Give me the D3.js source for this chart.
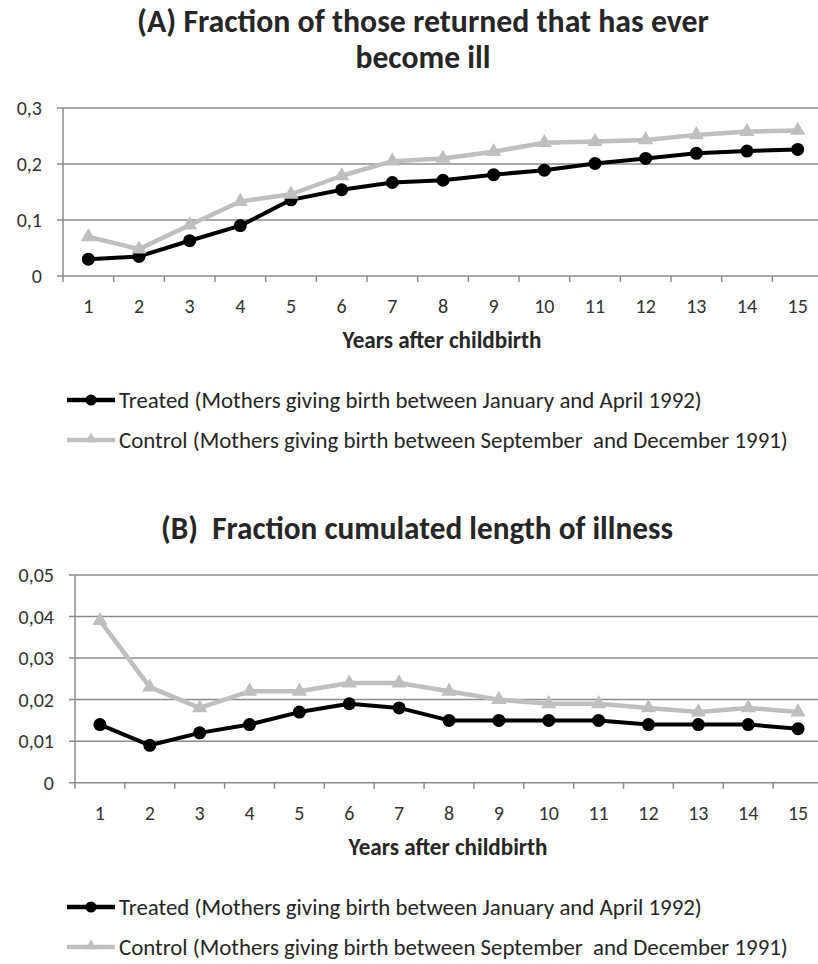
<!DOCTYPE html>
<html>
<head>
  <title>Illness after childbirth</title>
  <script src="https://d3js.org/d3.v7.min.js"></script>
  <style>
    body { margin: 0; background: #fff; }
    svg { display: block; font-family: Carlito, Calibri, Lato, "Open Sans", sans-serif; }
    text { white-space: pre; fill: #262626; }
    .grid line { stroke: #8c8c8c; stroke-width: 1.5px; }
    .tick-label { font-size: 20px; fill: #333; }
    .title { font-weight: bold; }
    .axis-title { font-weight: bold; }
  </style>
</head>
<body>
  <svg width="818" height="964"></svg>

  <script>
    // category labels
    const years = ["1", "2", "3", "4", "5", "6", "7", "8", "9", "10", "11", "12", "13", "14", "15"];

    // (A) fraction ever ill
    const illTreated = [0.030, 0.035, 0.063, 0.090, 0.136, 0.154, 0.167, 0.171, 0.181, 0.189, 0.201, 0.210, 0.219, 0.223, 0.226];
    const illControl = [0.070, 0.048, 0.091, 0.133, 0.146, 0.179, 0.205, 0.210, 0.222, 0.238, 0.240, 0.243, 0.252, 0.258, 0.260];
    const ticksA = [0, 0.1, 0.2, 0.3];

    // (B) fraction cumulated length of illness
    const lenTreated = [0.014, 0.009, 0.012, 0.014, 0.017, 0.019, 0.018, 0.015, 0.015, 0.015, 0.015, 0.014, 0.014, 0.014, 0.013];
    const lenControl = [0.039, 0.023, 0.018, 0.022, 0.022, 0.024, 0.024, 0.022, 0.020, 0.019, 0.019, 0.018, 0.017, 0.018, 0.017];
    const ticksB = [0, 0.01, 0.02, 0.03, 0.04, 0.05];

    const seriesNames = [
      "Treated (Mothers giving birth between January and April 1992)",
      "Control (Mothers giving birth between September  and December 1991)"
    ];
    const colors = ["#000000", "#bfbfbf"];

    const fmt = d3.formatLocale({ decimal: ",", thousands: ".", grouping: [3], currency: ["", ""] }).format("~g");
    const svg = d3.select('svg');

    svg.append('rect').attr('width', 818).attr('height', 964).attr('fill', '#fff');

    // shrink/grow font size so the text spans a given width
    function fit(sel, width, size) {
      sel.style('font-size', size + 'px');
      const w = sel.node().getComputedTextLength();
      sel.style('font-size', (size * width / w).toFixed(2) + 'px');
    }

    function drawPanel(p) {
      const g = svg.append('g');

      const x = d3.scaleBand().domain(years).range([p.left, p.right]);
      const y = d3.scaleLinear().domain(p.domain).range([p.bottom, p.top]);

      // title
      p.title.forEach((t, i) => {
        const tt = g.append('text').attr('class', 'title')
          .attr('x', p.titleX).attr('y', p.titleY[i])
          .attr('text-anchor', 'middle').text(t);
        fit(tt, p.titleW[i], 26);
      });

      // gridlines + y ticks
      const grid = g.append('g').attr('class', 'grid');
      grid.selectAll('line').data(p.ticks).enter().append('line')
        .attr('x1', p.left - 6).attr('x2', p.right)
        .attr('y1', d => y(d)).attr('y2', d => y(d));
      g.selectAll('.ylab').data(p.ticks).enter().append('text')
        .attr('class', 'tick-label')
        .attr('x', p.left - 21).attr('y', d => y(d)).attr('dy', '0.35em')
        .attr('text-anchor', 'end').text(d => fmt(d));

      // y axis line
      g.append('line').attr('x1', p.left).attr('x2', p.left)
        .attr('y1', p.top).attr('y2', p.bottom)
        .attr('stroke', '#8c8c8c').attr('stroke-width', 1.5);

      // x tick marks between categories
      const edges = years.map(d => x(d)).concat([p.right]);
      g.selectAll('.xtick').data(edges).enter().append('line')
        .attr('x1', d => d).attr('x2', d => d)
        .attr('y1', p.bottom).attr('y2', p.bottom + 6)
        .attr('stroke', '#8c8c8c').attr('stroke-width', 1.5);

      g.selectAll('.xlab').data(years).enter().append('text')
        .attr('class', 'tick-label')
        .attr('x', d => x(d) + x.bandwidth() / 2).attr('y', p.bottom + 37)
        .attr('text-anchor', 'middle').text(d => d);

      const at = g.append('text').attr('class', 'axis-title')
        .attr('x', (p.left + p.right) / 2 - 1).attr('y', p.bottom + 72)
        .attr('text-anchor', 'middle').text('Years after childbirth');
      fit(at, 199, 17);

      // series
      const line = d3.line()
        .x((d, i) => x(years[i]) + x.bandwidth() / 2)
        .y(d => y(d));

      g.append('path').datum(p.treated)
        .attr('fill', 'none').attr('stroke', colors[0]).attr('stroke-width', 4)
        .attr('stroke-linejoin', 'round').attr('d', line);
      g.selectAll('.dot').data(p.treated).enter().append('circle')
        .attr('cx', (d, i) => x(years[i]) + x.bandwidth() / 2)
        .attr('cy', d => y(d)).attr('r', 6.5).attr('fill', colors[0]);

      g.append('path').datum(p.control)
        .attr('fill', 'none').attr('stroke', colors[1]).attr('stroke-width', 4.5)
        .attr('stroke-linejoin', 'round').attr('d', line);
      g.selectAll('.tri').data(p.control).enter().append('path')
        .attr('d', d3.symbol(d3.symbolTriangle, 100))
        .attr('transform', (d, i) => `translate(${x(years[i]) + x.bandwidth() / 2},${y(d)})`)
        .attr('fill', colors[1]);

      // legend
      seriesNames.forEach((name, i) => {
        const ly = p.legendY + i * 40;
        g.append('line').attr('x1', 67).attr('x2', 115).attr('y1', ly).attr('y2', ly)
          .attr('stroke', colors[i]).attr('stroke-width', 4.5);
        if (i === 0) {
          g.append('circle').attr('cx', 91).attr('cy', ly).attr('r', 5.5).attr('fill', colors[0]);
        } else {
          g.append('path').attr('d', d3.symbol(d3.symbolTriangle, 55))
            .attr('transform', `translate(91,${ly - 1})`).attr('fill', colors[1]);
        }
        const lt = g.append('text').attr('x', 119).attr('y', ly).attr('dy', '0.35em').text(name);
        fit(lt, i === 0 ? 583 : 669, 20);
      });
    }

    drawPanel({
      title: ["(A) Fraction of those returned that has ever", "become ill"],
      titleX: 423, titleY: [32, 68], titleW: [572, 135],
      left: 63, right: 823, top: 108, bottom: 276,
      domain: [0, 0.3], ticks: ticksA,
      treated: illTreated, control: illControl,
      legendY: 400
    });

    drawPanel({
      title: ["(B)  Fraction cumulated length of illness"],
      titleX: 417, titleY: [539], titleW: [512],
      left: 75, right: 823, top: 575, bottom: 782.7,
      domain: [0, 0.05], ticks: ticksB,
      treated: lenTreated, control: lenControl,
      legendY: 907
    });
  </script>
</body>
</html>
